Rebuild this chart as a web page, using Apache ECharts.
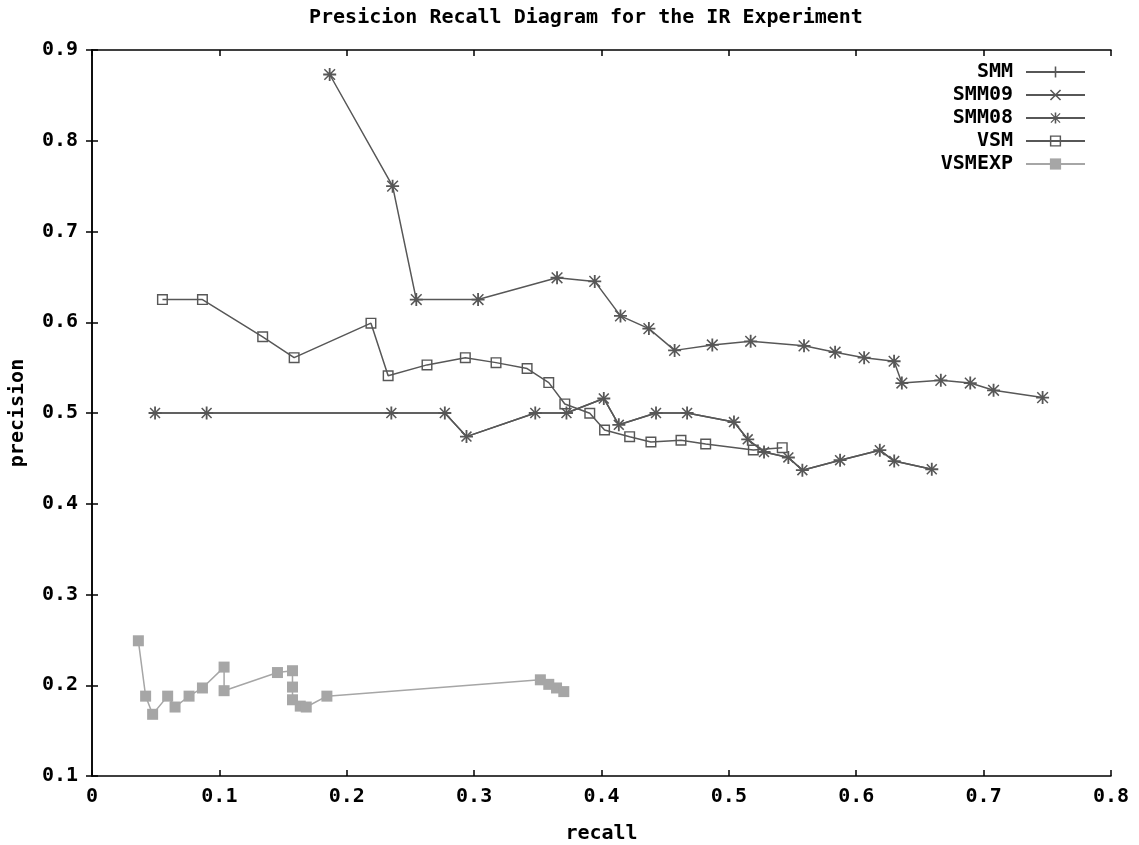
<!DOCTYPE html>
<html>
<head>
<meta charset="utf-8">
<script src="https://cdn.jsdelivr.net/npm/echarts@6/dist/echarts.min.js"></script>
<style>
html,body{margin:0;padding:0;background:#fff;}
#chart{width:1139px;height:845px;}
</style>
</head>
<body>
<div id="chart"></div>
<script>
// ---- data ----
const seriesNames = ['SMM', 'SMM09', 'SMM08', 'VSM', 'VSMEXP'];
const xTickLabels = ['0', '0.1', '0.2', '0.3', '0.4', '0.5', '0.6', '0.7', '0.8'];
const yTickLabels = ['0', '0.1', '0.2', '0.3', '0.4', '0.5', '0.6', '0.7', '0.8', '0.9'];

// SMM and SMM09 plot on the same points (their + and x markers overlap into stars)
const smmPoints = [
  [0.0495,0.500],[0.090,0.500],[0.235,0.500],[0.277,0.500],[0.294,0.474],
  [0.348,0.500],[0.3725,0.500],[0.4018,0.516],[0.4136,0.487],[0.4428,0.500],
  [0.4672,0.500],[0.504,0.490],[0.5148,0.471],[0.5276,0.457],[0.5467,0.451],
  [0.5577,0.437],[0.5873,0.448],[0.6185,0.459],[0.6298,0.447],[0.6593,0.438]
];
const smm09Points = smmPoints;
const smm08Points = [
  [0.1866,0.873],[0.236,0.750],[0.2546,0.625],[0.3031,0.625],[0.3651,0.649],
  [0.3947,0.645],[0.4149,0.607],[0.4372,0.593],[0.4574,0.569],[0.487,0.575],
  [0.5171,0.579],[0.559,0.574],[0.5834,0.567],[0.6062,0.561],[0.6297,0.557],
  [0.6358,0.533],[0.6664,0.536],[0.6895,0.533],[0.7078,0.525],[0.7463,0.517]
];
const vsmPoints = [
  [0.0553,0.625],[0.0867,0.625],[0.134,0.584],[0.1587,0.561],[0.219,0.599],
  [0.2325,0.541],[0.263,0.553],[0.2931,0.561],[0.3172,0.5555],[0.3416,0.549],
  [0.3586,0.5335],[0.3712,0.510],[0.3908,0.4997],[0.4024,0.4813],[0.4221,0.4739],
  [0.4388,0.468],[0.4624,0.470],[0.4818,0.4658],[0.5192,0.4592],[0.5419,0.4618]
];
const vsmexpPoints = [
  [0.0364,0.249],[0.0421,0.188],[0.0476,0.168],[0.0594,0.188],[0.0652,0.176],
  [0.0762,0.188],[0.0867,0.197],[0.1037,0.220],[0.1037,0.194],[0.1456,0.214],
  [0.1574,0.216],[0.1574,0.198],[0.1574,0.184],[0.1635,0.177],[0.1682,0.176],
  [0.1844,0.188],[0.352,0.206],[0.3586,0.201],[0.3647,0.197],[0.3704,0.193]
];

// ---- marker shapes ----
const PLUS = 'path://M4.3,0L5.7,0L5.7,10L4.3,10Z M0,4.3L10,4.3L10,5.7L0,5.7Z';
const CROSS = 'path://M0,1L1,0L10,9L9,10Z M9,0L10,1L1,10L0,9Z';
const STAR = 'path://M4.3,0L5.7,0L5.7,10L4.3,10Z M0,4.3L10,4.3L10,5.7L0,5.7Z M0.5,1.3L1.3,0.5L9.5,8.7L8.7,9.5Z M8.7,0.5L9.5,1.3L1.3,9.5L0.5,8.7Z';
const OSQUARE = 'path://M0,0L10,0L10,10L0,10Z M1.3,1.3L1.3,8.7L8.7,8.7L8.7,1.3Z';

const DARK = '#575757';
const LIGHT = '#a6a6a6';
const FONT = '"DejaVu Sans Mono", monospace';

function mkSeries(name, data, symbol, size, color, z) {
  return {
    name: name, type: 'line', data: data,
    symbol: symbol, symbolSize: size, showSymbol: true,
    lineStyle: { color: color, width: 1.5 },
    itemStyle: { color: color },
    emphasis: { disabled: true },
    animation: false, z: z
  };
}

const chart = echarts.init(document.getElementById('chart'), null, { renderer: 'canvas' });
const axisLine = { show: true, lineStyle: { color: '#000', width: 1.5 } };
const tickStyle = { show: true, inside: true, length: 6, lineStyle: { color: '#000', width: 1.5 } };
const textBase = { fontFamily: FONT, fontSize: 20, fontWeight: 'bold', color: '#000' };

chart.setOption({
  backgroundColor: '#fff',
  animation: false,
  title: {
    text: 'Presicion Recall Diagram for the IR Experiment',
    left: 304, top: 3,
    textStyle: textBase
  },
  legend: {
    data: seriesNames,
    orient: 'vertical',
    right: 48, top: 57,
    align: 'right',
    itemWidth: 59, itemHeight: 14, itemGap: 3,
    textStyle: Object.assign({ padding: [0, 8, 0, 0] }, textBase),
    selectedMode: false
  },
  grid: { left: 92, right: 28, top: 50, bottom: 69, containLabel: false, outerBoundsMode: 'none' },
  xAxis: [{
    type: 'value', min: 0, max: 0.8, interval: 0.1,
    name: 'recall', nameLocation: 'middle', nameGap: 48,
    nameTextStyle: textBase,
    axisLine: axisLine, axisTick: tickStyle, splitLine: { show: false },
    axisLabel: Object.assign({ margin: 11, formatter: v => xTickLabels[Math.round(v * 10)] }, textBase)
  }, {
    type: 'value', min: 0, max: 0.8, interval: 0.1, position: 'top',
    axisLine: axisLine, axisTick: tickStyle, axisLabel: { show: false }, splitLine: { show: false }
  }],
  yAxis: [{
    type: 'value', min: 0.1, max: 0.9, interval: 0.1,
    name: 'precision', nameLocation: 'middle', nameGap: 64, nameRotate: 90,
    nameTextStyle: textBase,
    axisLine: axisLine, axisTick: tickStyle, splitLine: { show: false },
    axisLabel: Object.assign({ margin: 14, padding: [8, 0, 0, 0], formatter: v => yTickLabels[Math.round(v * 10)] }, textBase)
  }, {
    type: 'value', min: 0.1, max: 0.9, interval: 0.1, position: 'right',
    axisLine: axisLine, axisTick: tickStyle, axisLabel: { show: false }, splitLine: { show: false }
  }],
  series: [
    mkSeries('SMM', smmPoints, PLUS, 13, DARK, 3),
    mkSeries('SMM09', smm09Points, CROSS, 11, DARK, 3),
    mkSeries('SMM08', smm08Points, STAR, 13, DARK, 3),
    mkSeries('VSM', vsmPoints, OSQUARE, 11, DARK, 3),
    mkSeries('VSMEXP', vsmexpPoints, 'rect', 11, LIGHT, 2)
  ]
});
</script>
</body>
</html>
